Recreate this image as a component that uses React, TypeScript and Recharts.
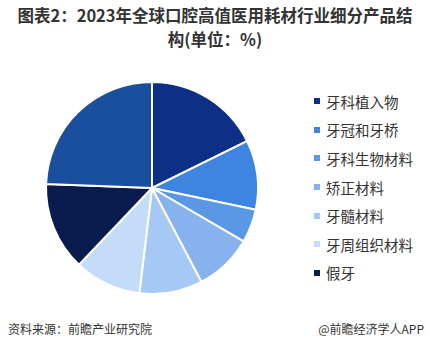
import { PieChart, Pie, Cell, Legend } from 'recharts';

const categories = ['牙科植入物', '牙冠和牙桥', '牙科生物材料', '矫正材料', '牙髓材料', '牙周组织材料', '假牙', '其他'];
const shares = [17.7, 10.6, 5.1, 8.9, 9.6, 10.2, 13.5, 24.4];
const colors = ['#0e2f86', '#3d85e0', '#5a98e6', '#87b2ee', '#a6c8f4', '#c4dcf8', '#0a1c4e', '#1a4f9e'];
// legend in the picture only lists the first seven
const legendCount = 7;

const data = categories.map((name, i) => ({ name, value: shares[i] }));

const font = '"Noto Sans CJK SC", "Noto Sans", sans-serif';

function LegendList() {
  return (
    <ul style={{ listStyle: 'none', margin: 0, padding: 0, fontFamily: font }}>
      {categories.slice(0, legendCount).map((name, i) => (
        <li
          key={name}
          style={{ display: 'flex', alignItems: 'center', height: 28.6, fontSize: 14.5, color: '#333' }}
        >
          <span style={{ width: 6, height: 6, background: colors[i], marginRight: 6, display: 'inline-block' }} />
          {name}
        </li>
      ))}
    </ul>
  );
}

const titleStyle = {
  position: 'absolute' as const,
  left: 0,
  width: 430,
  textAlign: 'center' as const,
  fontSize: 16.5,
  fontWeight: 'bold' as const,
  lineHeight: '18px',
  color: '#333',
  whiteSpace: 'nowrap' as const,
};

export default function App() {
  return (
    <div style={{ position: 'absolute', left: 0, top: 0, width: 430, height: 352, background: '#fff', fontFamily: font }}>
      <div style={{ ...titleStyle, top: 6 }}>图表2：2023年全球口腔高值医用耗材行业细分产品结</div>
      <div style={{ ...titleStyle, top: 30 }}>构(单位：%)</div>
      <PieChart width={430} height={352} margin={{ top: 0, right: 0, bottom: 0, left: 0 }}>
        <Pie
          data={data}
          dataKey="value"
          nameKey="name"
          cx={152}
          cy={188}
          outerRadius={106}
          startAngle={90}
          endAngle={-270}
          stroke="#fff"
          strokeWidth={2}
          isAnimationActive={false}
        >
          {data.map((d, i) => (
            <Cell key={d.name} fill={colors[i]} />
          ))}
        </Pie>
        <Legend
          layout="vertical"
          content={() => <LegendList />}
          wrapperStyle={{ left: 314, top: 87, width: 116 }}
        />
      </PieChart>
      <div style={{ position: 'absolute', left: 8, top: 320, fontSize: 12, color: '#333' }}>
        资料来源：前瞻产业研究院
      </div>
      <div style={{ position: 'absolute', right: 6, top: 320, fontSize: 12, color: '#333' }}>
        @前瞻经济学人APP
      </div>
    </div>
  );
}
